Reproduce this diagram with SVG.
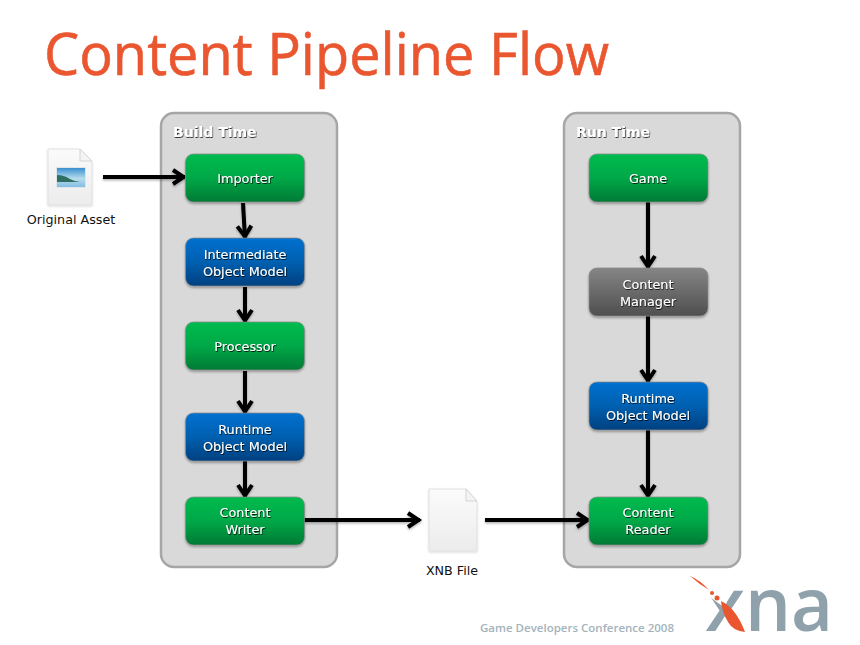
<svg xmlns="http://www.w3.org/2000/svg" width="860" height="645" viewBox="0 0 860 645">
<style>
.panel{fill:#d9d9d9;stroke:#a6a6a6;stroke-width:2.500}
.box{stroke:#8c8c8c;stroke-opacity:.7;stroke-width:1}
.g{fill:url(#green)}.b{fill:url(#blue)}.k{fill:url(#gray)}
.lab{font-family:"DejaVu Sans","Noto Sans",sans-serif;font-size:12.800px;fill:#fff;text-anchor:middle}
.hd{font-family:"DejaVu Sans","Noto Sans",sans-serif;font-size:14px;font-weight:700;fill:#fff}
.cap{font-family:"DejaVu Sans","Noto Sans",sans-serif;font-size:12.700px;fill:#111;text-anchor:middle}
.c{fill:none;stroke:#000;stroke-width:4;marker-end:url(#ah)}
.page{fill:url(#page);stroke:#e0e0e0;stroke-width:1}
.fold{fill:#f4f4f4;stroke:#d4d4d4;stroke-width:1}
</style>
<defs>
<linearGradient id="green" x1="0" y1="0" x2="0" y2="1"><stop offset="0" stop-color="#00bb4e"/><stop offset=".5" stop-color="#00a847"/><stop offset="1" stop-color="#007a35"/></linearGradient>
<linearGradient id="blue" x1="0" y1="0" x2="0" y2="1"><stop offset="0" stop-color="#0070cf"/><stop offset=".5" stop-color="#0060b0"/><stop offset="1" stop-color="#004080"/></linearGradient>
<linearGradient id="gray" x1="0" y1="0" x2="0" y2="1"><stop offset="0" stop-color="#858585"/><stop offset="1" stop-color="#4f4f4f"/></linearGradient>
<linearGradient id="page" x1="0" y1="0" x2="0" y2="1"><stop offset="0" stop-color="#fbfbfb"/><stop offset="1" stop-color="#ececec"/></linearGradient>
<linearGradient id="sky" x1="0" y1="0" x2="0" y2="1"><stop offset="0" stop-color="#3a8fd0"/><stop offset=".55" stop-color="#b6dcec"/><stop offset="1" stop-color="#86bde3"/></linearGradient>
<filter id="ns" x="-10%" y="-10%" width="120%" height="125%"><feDropShadow dx="0" dy="1.500" stdDeviation="1" flood-color="#000" flood-opacity=".35"/></filter>
<filter id="ts" x="-10%" y="-20%" width="120%" height="150%"><feDropShadow dx="0.600" dy="0.800" stdDeviation="0.300" flood-color="#000" flood-opacity=".95"/></filter>
<filter id="as" filterUnits="userSpaceOnUse" x="0" y="0" width="860" height="645"><feDropShadow dx="0" dy="1.500" stdDeviation="1" flood-color="#000" flood-opacity=".3"/></filter>
<filter id="fs" x="-10%" y="-10%" width="120%" height="120%"><feDropShadow dx="0" dy="1" stdDeviation="1" flood-color="#000" flood-opacity=".15"/></filter>
<marker id="ah" markerUnits="userSpaceOnUse" markerWidth="20" markerHeight="20" refX="16.500" refY="10" orient="auto"><path d="M4.500 3 L15 10 L4.500 17" fill="none" stroke="#000" stroke-width="4"/></marker>
</defs>
<rect width="860" height="645" fill="#fff"/>
<text x="44" y="75" font-family="'Open Sans','Noto Sans',sans-serif" font-size="58" fill="#e9562f" stroke="#e9562f" stroke-width="0.600" textLength="565" lengthAdjust="spacingAndGlyphs">Content Pipeline Flow</text>

<g id="build-time"><rect class="panel" x="161" y="113" width="176" height="454" rx="13"/><text class="hd" x="173" y="137" filter="url(#ts)">Build Time</text></g>
<g id="run-time"><rect class="panel" x="564" y="113" width="176" height="454" rx="13"/><text class="hd" x="576" y="137" filter="url(#ts)">Run Time</text></g>

<g id="connectors" filter="url(#as)">
<path class="c" d="M103 177H185"/>
<path class="c" d="M243 203L245 238"/>
<path class="c" d="M245 287V322"/>
<path class="c" d="M245 371V413"/>
<path class="c" d="M245 461V497"/>
<path class="c" d="M304 520H420"/>
<path class="c" d="M485 520H589"/>
<path class="c" d="M648 202V268"/>
<path class="c" d="M648 316V382"/>
<path class="c" d="M648 430V497"/>
</g>

<g id="original-asset">
<path class="page" filter="url(#fs)" d="M48 149H79L92 162V205H48Z"/>
<path class="fold" d="M80 149V161H92Z"/>
<rect x="56" y="167" width="30" height="21" fill="#dfe6ea"/>
<rect x="57" y="168" width="28" height="19" fill="url(#sky)"/>
<path d="M57 175Q64 175 70 179Q75 182 80 182H57Z" fill="#2f6f62"/>
<text class="cap" x="71" y="224">Original Asset</text>
</g>
<g id="importer"><rect class="box g" filter="url(#ns)" x="185.500" y="154" width="119" height="48" rx="8"/><text class="lab" filter="url(#ts)" x="245" y="183">Importer</text></g>
<g id="intermediate"><rect class="box b" filter="url(#ns)" x="185.500" y="238" width="119" height="48" rx="8"/><text class="lab" filter="url(#ts)" x="245" y="259">Intermediate</text><text class="lab" filter="url(#ts)" x="245" y="276">Object Model</text></g>
<g id="processor"><rect class="box g" filter="url(#ns)" x="185.500" y="322" width="119" height="48" rx="8"/><text class="lab" filter="url(#ts)" x="245" y="351">Processor</text></g>
<g id="runtime-build"><rect class="box b" filter="url(#ns)" x="185.500" y="413" width="119" height="48" rx="8"/><text class="lab" filter="url(#ts)" x="245" y="434">Runtime</text><text class="lab" filter="url(#ts)" x="245" y="451">Object Model</text></g>
<g id="writer"><rect class="box g" filter="url(#ns)" x="185.500" y="497" width="119" height="48" rx="8"/><text class="lab" filter="url(#ts)" x="245" y="517">Content</text><text class="lab" filter="url(#ts)" x="245" y="534">Writer</text></g>
<g id="xnb-file">
<path class="page" filter="url(#fs)" d="M429 489H466L477 502V551H429Z"/>
<path class="fold" d="M466 489V501H477Z"/>
<text class="cap" x="452" y="575">XNB File</text>
</g>
<g id="game"><rect class="box g" filter="url(#ns)" x="589" y="154" width="119" height="48" rx="8"/><text class="lab" filter="url(#ts)" x="648" y="183">Game</text></g>
<g id="manager"><rect class="box k" filter="url(#ns)" x="589" y="268" width="119" height="48" rx="8"/><text class="lab" filter="url(#ts)" x="648" y="289">Content</text><text class="lab" filter="url(#ts)" x="648" y="306">Manager</text></g>
<g id="runtime-run"><rect class="box b" filter="url(#ns)" x="589" y="382" width="119" height="48" rx="8"/><text class="lab" filter="url(#ts)" x="648" y="403">Runtime</text><text class="lab" filter="url(#ts)" x="648" y="420">Object Model</text></g>
<g id="reader"><rect class="box g" filter="url(#ns)" x="589" y="497" width="119" height="48" rx="8"/><text class="lab" filter="url(#ts)" x="648" y="517">Content</text><text class="lab" filter="url(#ts)" x="648" y="534">Reader</text></g>

<g id="footer">
<text x="480" y="632" font-family="'Open Sans','Noto Sans',sans-serif" font-size="11.500" font-weight="600" fill="#a4b3bb" textLength="194" lengthAdjust="spacingAndGlyphs">Game Developers Conference 2008</text>
<text x="705" y="631" font-family="'Open Sans','Noto Sans',sans-serif" font-size="75" font-weight="600" fill="#8fa2ac" textLength="128" lengthAdjust="spacingAndGlyphs">xna</text>
<path d="M703 586H731L725 608L703 592Z" fill="#fff"/>
<path d="M746 592H750V633H718Z" fill="#fff"/>
<path d="M690 576Q700 580 709 590Q699 584 690 576Z" fill="#e9562f"/>
<circle cx="712" cy="593" r="2" fill="#e9562f"/><circle cx="717" cy="598" r="2.500" fill="#e9562f"/>
<path d="M721 601Q736 608 745 632Q733 631 728 622Q722 612 721 601Z" fill="#e9562f"/>
</g>
</svg>
